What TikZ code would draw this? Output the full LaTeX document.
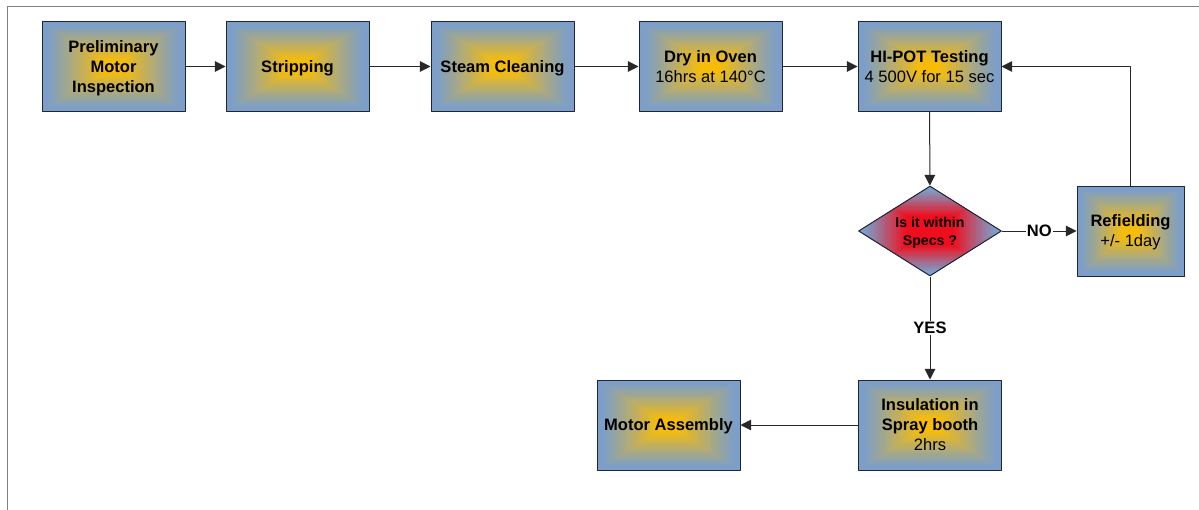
\documentclass[tikz,border=0pt]{standalone}
\usepackage{fontspec}
\setmainfont{Liberation Sans}
\usetikzlibrary{shapes.geometric,arrows.meta,calc}
\definecolor{edgeblue}{RGB}{124,158,200}
\definecolor{coreyellow}{RGB}{247,188,10}
\definecolor{corered}{RGB}{240,14,30}
\definecolor{linedark}{RGB}{40,40,40}
\definecolor{framegray}{RGB}{128,128,128}
\definecolor{boxline}{RGB}{28,38,56}
\begin{document}
\begin{tikzpicture}[x=0.75pt, y=-0.75pt, font=\fontsize{12.4}{15}\selectfont, line join=round, >={Triangle[length=8pt,width=8pt]},
	% rectangular gradient: edge colour outside, #1 in the middle, #2 = ramp length
	glow/.style 2 args={path picture={
			\foreach \t in {0,0.025,...,0.99}{
				\pgfmathsetmacro\s{1-\t}
				\pgfmathsetmacro\mix{100*min(1,max(0,(\t-0.06)/#2))^1.1}
				\fill[#1!\mix!edgeblue]
				($(path picture bounding box.center)!\s!(path picture bounding box.north east)$) rectangle
				($(path picture bounding box.center)!\s!(path picture bounding box.south west)$);
		}}},
	stage/.style={draw=boxline, line width=0.75pt, minimum width=107.25pt, minimum height=66.75pt, align=center, inner sep=1pt,
		text depth=0pt, glow={coreyellow}{0.8}},
	check/.style={diamond, aspect=1.6, draw=boxline, line width=0.75pt, minimum width=107.25pt, minimum height=67.5pt, inner sep=0pt, align=center,
		text depth=0pt, font=\bfseries\fontsize{10.6}{13.5}\selectfont, glow={corered}{0.6}},
	link/.style={draw=linedark, line width=0.75pt, ->},
	tag/.style={fill=white, inner sep=1pt, font=\bfseries\fontsize{12.4}{15}\selectfont}]
	\useasboundingbox (0,0) rectangle (1199,510);
	% page frame
	\draw[framegray, line width=0.75pt] (7,510) -- (7,7) -- (1199,7);
	% top row
	\node[stage] (prelim) at (113.5,66.5) {\textbf{Preliminary}\\\textbf{Motor}\\\textbf{Inspection}};
	\node[stage] (strip) at (297.5,66.5) {\textbf{Stripping}};
	\node[stage] (steam) at (502.5,66.5) {\textbf{Steam Cleaning}};
	\node[stage] (oven) at (710.5,66.5) {\textbf{Dry in Oven}\\16hrs at 140°C};
	\node[stage] (hipot) at (929.5,66.5) {\textbf{HI-POT Testing}\\4 500V for 15 sec};
	% decision and branches
	\node[check] (specs) at (930,231) {Is it within\\Specs ?};
	\node[stage, minimum width=80.25pt, minimum height=67.5pt] (refield) at (1130.5,231) {\textbf{Refielding}\\+/- 1day};
	\node[stage, minimum height=67.5pt] (spray) at (930,425) {\textbf{Insulation in}\\\textbf{Spray booth}\\2hrs};
	\node[stage, minimum height=67.5pt] (assembly) at (668.5,425) {\textbf{Motor Assembly}};
	\foreach \a/\b in {prelim/strip,strip/steam,steam/oven,oven/hipot,hipot/specs,spray/assembly}
	\draw[link] (\a) -- (\b);
	\draw[link] (specs) -- node[tag] {NO} (refield);
	\draw[link] (specs) -- node[tag] {YES} (spray);
	\draw[link] (refield.north) |- (hipot.east);
\end{tikzpicture}
\end{document}
